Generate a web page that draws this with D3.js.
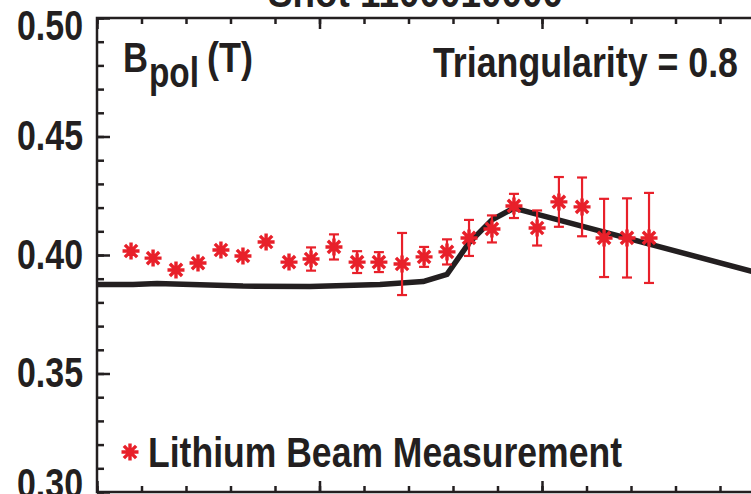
<!DOCTYPE html>
<html>
<head>
<meta charset="utf-8">
<script src="https://cdn.jsdelivr.net/npm/d3@7"></script>
<style>
  html, body { margin: 0; padding: 0; background: #fff; }
  svg { display: block; }
  text { font-family: "Liberation Sans Narrow", "Arial Narrow", "Helvetica Narrow", "Liberation Sans", sans-serif; font-weight: bold; fill: #231f20; }
</style>
</head>
<body>
<svg id="chart" width="751" height="494"></svg>
<script>
// Lithium beam B_pol measurements (position along the beam, arbitrary units)
const beamPos = [0.153, 0.252, 0.355, 0.454, 0.557, 0.656, 0.760, 0.863, 0.962, 1.065, 1.169, 1.267,
                 1.371, 1.470, 1.573, 1.672, 1.775, 1.874, 1.978, 2.076, 2.180, 2.279, 2.382, 2.481];
const bpolMeas = [0.4017, 0.3987, 0.3937, 0.3966, 0.4021, 0.3996, 0.4055, 0.3970, 0.3983, 0.4034, 0.3970, 0.3970,
                  0.3962, 0.3992, 0.4013, 0.4072, 0.4110, 0.4207, 0.4114, 0.4224, 0.4203, 0.4072, 0.4072, 0.4072];
const bpolErr  = [0, 0, 0, 0, 0, 0, 0, 0, 0.0049, 0.0053, 0.0046, 0.0042,
                  0.0131, 0.0042, 0.0053, 0.0076, 0.0057, 0.0051, 0.0074, 0.0105, 0.0124, 0.0165, 0.0167, 0.0190];

// Equilibrium reconstruction B_pol along the same chord
const eqPos  = [0.000, 0.162, 0.270, 0.656, 0.957, 1.272, 1.465, 1.573, 1.672, 1.775, 1.874, 3.000];
const eqBpol = [0.3876, 0.3876, 0.3880, 0.3869, 0.3867, 0.3876, 0.3888, 0.3918, 0.4051, 0.4148, 0.4198, 0.3917];

const yTickLabels = ["0.30", "0.35", "0.40", "0.45", "0.50"];
const titleText = "Shot 1100010000";
const shapeText = "Triangularity = 0.8";
const legendText = "Lithium Beam Measurement";

const svg = d3.select("#chart");
const red = "#e8202a";
const ink = "#231f20";

const x = d3.scaleLinear().domain([0, 3]).range([97, 764.5]);
const y = d3.scaleLinear().domain([0.30, 0.50]).range([492, 18]);

// condensed bold text helper
function label(xp, yp, size, width, str) {
  return svg.append("text").attr("x", xp).attr("y", yp).attr("font-size", size)
    .attr("textLength", width).attr("lengthAdjust", "spacingAndGlyphs").text(str);
}

// title, partly above the frame
label(268, 7, 43, 295, titleText);

// frame
const frame = svg.append("g").attr("stroke", ink).attr("stroke-width", 2.5).attr("fill", "none");
frame.append("rect").attr("x", x(0)).attr("y", y(0.50))
  .attr("width", x(3) - x(0)).attr("height", y(0.30) - y(0.50));

// y axis: minor ticks every 0.01, major ticks with labels every 0.05
const yMinor = d3.range(0, 21).map(i => 0.30 + i * 0.01);
const yMajor = yTickLabels.map(Number);
const gyMinor = svg.append("g").attr("transform", `translate(${x(0)},0)`)
  .call(d3.axisLeft(y).tickValues(yMinor).tickSize(-7).tickFormat(""));
const gyMajor = svg.append("g").attr("transform", `translate(${x(0)},0)`)
  .call(d3.axisLeft(y).tickValues(yMajor).tickSize(-13).tickPadding(14)
    .tickFormat((d, i) => yTickLabels[i]));
[gyMinor, gyMajor].forEach(g => {
  g.select(".domain").remove();
  g.selectAll(".tick line").attr("stroke", ink).attr("stroke-width", 2.5);
});
// end labels are nudged inside the frame's vertical extent
gyMajor.selectAll(".tick text").attr("font-size", 42).attr("fill", ink)
  .attr("font-family", null).attr("textLength", 66).attr("lengthAdjust", "spacingAndGlyphs")
  .attr("dy", (d, i) => i === 0 ? "0.12em" : (i === yTickLabels.length - 1 ? "0.5em" : "0.32em"));

// x axes on top and bottom, ticks pointing inward
const xMinor = d3.range(0, 16).map(i => i * 0.2);
const xMajor = [0, 1, 2, 3];
function xAxis(gen, ty) {
  [[xMinor, -6], [xMajor, -11]].forEach(([vals, size]) => {
    const g = svg.append("g").attr("transform", `translate(0,${ty})`)
      .call(gen(x).tickValues(vals).tickSize(size).tickFormat(""));
    g.select(".domain").remove();
    g.selectAll(".tick line").attr("stroke", ink).attr("stroke-width", 2.5);
  });
}
xAxis(d3.axisTop, y(0.50));
xAxis(d3.axisBottom, y(0.30));

// equilibrium curve
svg.append("path")
  .datum(eqPos.map((p, i) => [p, eqBpol[i]]))
  .attr("fill", "none").attr("stroke", ink).attr("stroke-width", 5.5)
  .attr("stroke-linejoin", "round")
  .attr("d", d3.line().x(d => x(d[0])).y(d => y(d[1])));

// error bars
const meas = beamPos.map((p, i) => ({ p, v: bpolMeas[i], e: bpolErr[i] }));
const eb = svg.append("g").attr("stroke", red).attr("stroke-width", 2.2);
meas.filter(d => d.e > 0).forEach(d => {
  const cx = x(d.p), y0 = y(d.v - d.e), y1 = y(d.v + d.e);
  eb.append("line").attr("x1", cx).attr("x2", cx).attr("y1", y0).attr("y2", y1);
  eb.append("line").attr("x1", cx - 5).attr("x2", cx + 5).attr("y1", y0).attr("y2", y0);
  eb.append("line").attr("x1", cx - 5).attr("x2", cx + 5).attr("y1", y1).attr("y2", y1);
});

// asterisk markers
function star(g, cx, cy, r) {
  const a = r * 0.72;
  g.append("path").attr("transform", `translate(${cx},${cy})`)
    .attr("d", `M${-r},0H${r}M0,${-r}V${r}M${-a},${-a}L${a},${a}M${-a},${a}L${a},${-a}`)
    .attr("stroke", red).attr("stroke-width", 3.4).attr("fill", "none");
}
const mk = svg.append("g");
meas.forEach(d => star(mk, x(d.p), y(d.v), 8.5));

// quantity label with subscript
label(123, 72, 42, 25, "B");
label(149, 87, 42, 50, "pol");
label(207, 72, 42, 46, "(T)");

label(433, 77, 43, 305, shapeText);

// legend
star(svg.append("g"), 130, 452, 8.5);
label(148, 467, 43, 474, legendText);
</script>
</body>
</html>
